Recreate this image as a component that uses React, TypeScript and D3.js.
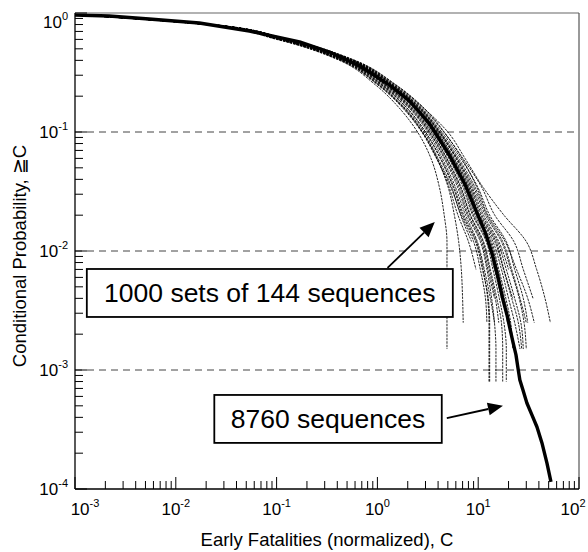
import * as d3 from "d3";

// axis decades (exponents of 10)
const xTickExps: number[] = [-3, -2, -1, 0, 1, 2];
const yTickExps: number[] = [0, -1, -2, -3, -4];
const gridValues: number[] = [1e-1, 1e-2, 1e-3];

// 8760 sequences (thick curve): C values and matching conditional probabilities
const mainC: number[] = [
  0.001, 0.00218, 0.00544, 0.0171, 0.0537, 0.169, 0.335, 0.665, 1.32, 2.09, 3.3,
  5.23, 7.36, 9.25, 11.6, 13.7, 15.7, 17.6, 19.3, 20.6, 22.1, 23.7, 24.8, 25.9,
  27.8, 30.4, 34.1, 38.3, 42.9, 48.1, 52.7,
];
const mainP: number[] = [
  0.962, 0.944, 0.89, 0.824, 0.706, 0.571, 0.47, 0.359, 0.248, 0.182, 0.117,
  0.0629, 0.0366, 0.023, 0.0147, 0.0096, 0.00605, 0.00388, 0.0029, 0.00225,
  0.00172, 0.00134, 0.00104, 0.000824, 0.000679, 0.000528, 0.000419, 0.000332,
  0.000244, 0.000165, 0.000115,
];

// 1000 sets of 144 sequences (thin curves): probability levels shared by all sets
const setP: number[] = [
  0.97, 0.8, 0.6, 0.4, 0.25, 0.15, 0.1, 0.06, 0.035, 0.02, 0.012, 0.007, 0.004,
  0.0025, 0.0015, 0.0008,
];
// C of each sampled set at those levels (a set stops where its list ends)
const setC: number[][] = [
  [0.001, 0.023, 0.13, 0.59, 1.5, 3.1, 5.0, 7.4, 11, 18, 30, 38, 46, 52],
  [0.001, 0.0225, 0.128, 0.58, 1.46, 3.0, 4.55, 7.05, 10.7, 14.6, 22.6, 28, 35],
  [0.001, 0.022, 0.125, 0.57, 1.42, 2.9, 4.35, 6.7, 9.8, 13, 19, 23, 28, 31],
  [0.001, 0.021, 0.119, 0.52, 1.28, 2.6, 3.8, 5.6, 7.9, 10.2, 14, 17, 20, 23, 26],
  [0.001, 0.0205, 0.113, 0.49, 1.18, 2.3, 3.3, 4.7, 6.4, 8.0, 10.8, 12.5, 14.5],
  [0.001, 0.02, 0.108, 0.46, 1.1, 2.1, 3.0, 4.2, 5.6, 7.0, 9.4, 11, 12.6, 13, 13, 13],
  [0.001, 0.0195, 0.1, 0.42, 0.95, 1.75, 2.5, 3.4, 4.1, 4.6, 4.9, 4.9, 4.9, 4.9, 4.9],
  [0.001, 0.0205, 0.11, 0.47, 1.12, 2.2, 3.15, 4.4, 5.9, 7.5, 9.8, 11.5, 13.2, 14.5],
  [0.001, 0.022, 0.124, 0.55, 1.36, 2.75, 4.05, 6.1, 8.6, 11.3, 16, 20],
  [0.001, 0.0215, 0.12, 0.535, 1.32, 2.62, 3.85, 5.5, 7.7, 9.8, 13.5, 16, 18.8, 21, 22],
  [0.001, 0.02, 0.105, 0.44, 1.02, 1.95, 2.8, 3.9, 5.1, 6.3, 8.0, 9.5],
  [0.001, 0.0222, 0.127, 0.57, 1.42, 2.85, 4.2, 6.4, 9.2, 12.2, 17.5, 21.5, 26, 30],
  [0.001, 0.021, 0.115, 0.5, 1.2, 2.4, 3.45, 4.9, 6.7, 8.4, 11.3, 13.2, 15.3, 17, 17.5, 17.5],
  [0.001, 0.0212, 0.118, 0.52, 1.26, 2.5, 3.6, 5.2, 7.2, 9.0, 12.3, 14.5, 17],
  [0.001, 0.0218, 0.122, 0.54, 1.34, 2.7, 3.95, 5.8, 8.2, 10.6, 15, 18, 22],
  [0.001, 0.0198, 0.103, 0.43, 1.0, 1.9, 2.75, 3.85, 5.3, 6.8, 9.0, 10.5, 11.8, 12.2],
  [0.001, 0.0216, 0.121, 0.54, 1.33, 2.65, 3.9, 5.7, 8.0, 10.3, 14.6, 17.8, 21.5, 25, 27],
  [0.001, 0.0202, 0.108, 0.45, 1.06, 2.0, 2.9, 4.0, 5.4, 6.7, 8.6],
  [0.001, 0.0214, 0.119, 0.525, 1.29, 2.55, 3.7, 5.35, 7.4, 9.3, 12.8, 15, 17.8, 19.5],
  [0.001, 0.0198, 0.104, 0.44, 1.03, 1.95, 2.8, 3.9, 5.0, 5.8, 6.4, 6.8, 7.0, 7.1],
  [0.001, 0.0225, 0.13, 0.6, 1.52, 3.1, 4.6, 6.9, 9.6, 12.5, 18.5, 24, 31, 36],
  [0.001, 0.0208, 0.112, 0.48, 1.15, 2.25, 3.25, 4.6, 6.2, 7.8, 10.5, 12.2, 13.6, 14.5, 15, 15],
  [0.001, 0.0212, 0.121, 0.53, 1.31, 2.58, 3.75, 5.45, 7.6, 9.6, 13.2, 15.6, 18.2, 20.5],
  [0.001, 0.0218, 0.124, 0.55, 1.38, 2.78, 4.1, 6.0, 8.4, 10.9, 15.5, 19, 23, 26.5, 28],
  [0.001, 0.0207, 0.114, 0.49, 1.19, 2.35, 3.4, 4.85, 6.6, 8.3, 11.1, 12.9, 14.8, 16],
  [0.001, 0.0203, 0.109, 0.46, 1.09, 2.08, 3.0, 4.25, 5.7, 7.2, 9.6, 11.2, 12.4, 12.8, 12.8, 12.8],
  [0.001, 0.022, 0.126, 0.565, 1.4, 2.82, 4.15, 6.2, 8.9, 11.8, 17, 21, 25.5, 28.5, 30],
  [0.001, 0.0213, 0.117, 0.51, 1.24, 2.47, 3.55, 5.1, 7.0, 8.8, 12, 14, 16.2, 18, 19, 19],
];

// annotations, in data coordinates
const setsLabel = "1000 sets of 144 sequences";
const setsBoxC: [number, number] = [0.00131, 5.6];
const setsBoxP: [number, number] = [0.00706, 0.00279];
const setsArrow: [number, number][] = [[1.26, 0.0072], [3.71, 0.0175]];
const mainLabel = "8760 sequences";
const mainBoxC: [number, number] = [0.0241, 4.35];
const mainBoxP: [number, number] = [0.000617, 0.000244];
const mainArrow: [number, number][] = [[4.88, 0.000395], [17.6, 0.0005]];

const xTitle = "Early Fatalities (normalized), C";
const yTitle = "Conditional Probability, \u2267C";

const width = 588;
const height = 552;
const marginLeft = 75;
const marginRight = 9;
const marginTop = 13;
const marginBottom = 63;
const font = "'Liberation Sans', Arial, Helvetica, sans-serif";

export default function App() {
  const x = d3.scaleLog().domain([1e-3, 1e2]).range([marginLeft, width - marginRight]);
  const y = d3.scaleLog().domain([1e-4, 1]).range([height - marginBottom, marginTop]);
  const line = d3
    .line<[number, number]>()
    .x((d) => x(d[0]))
    .y((d) => y(d[1]));
  const thinLine = d3
    .line<[number, number]>()
    .x((d) => x(d[0]))
    .y((d) => y(d[1]))
    .curve(d3.curveMonotoneY);

  const mainPts = mainC.map((c, i) => [c, mainP[i]] as [number, number]);
  const isMajor = (v: number) => Math.abs(Math.log10(v) - Math.round(Math.log10(v))) < 1e-9;

  const arrow = (pts: [number, number][], key: string) => {
    const [x0, y0] = [x(pts[0][0]), y(pts[0][1])];
    const [x1, y1] = [x(pts[1][0]), y(pts[1][1])];
    const a = Math.atan2(y1 - y0, x1 - x0);
    const hl = 15;
    const hw = 6.5;
    const bx = x1 - hl * Math.cos(a);
    const by = y1 - hl * Math.sin(a);
    const px = -Math.sin(a) * hw;
    const py = Math.cos(a) * hw;
    return (
      <g key={key}>
        <line x1={x0} y1={y0} x2={bx} y2={by} stroke="#000" strokeWidth={1.8} />
        <polygon points={`${x1},${y1} ${bx + px},${by + py} ${bx - px},${by - py}`} fill="#000" />
      </g>
    );
  };

  const bottom = height - marginBottom;
  const right = width - marginRight;

  return (
    <svg
      width={width}
      height={height}
      style={{ position: "absolute", left: 0, top: 0, background: "#fff" }}
      fontFamily={font}
    >
      <rect x={0} y={0} width={width} height={height} fill="#fff" />

      {/* dashed grid lines */}
      {gridValues.map((v) => (
        <line
          key={v}
          x1={marginLeft}
          x2={right}
          y1={y(v)}
          y2={y(v)}
          stroke="#444"
          strokeWidth={1}
          strokeDasharray="7 5"
        />
      ))}

      {/* 1000 sets of 144 sequences */}
      <g fill="none" stroke="#000" strokeWidth={0.85} strokeDasharray="2.5 1">
        {setC.map((cs, i) => (
          <path key={i} d={thinLine(cs.map((c, j) => [c, setP[j]] as [number, number])) || ""} />
        ))}
      </g>

      {/* 8760 sequences */}
      <path d={line(mainPts) || ""} fill="none" stroke="#000" strokeWidth={3.4} strokeLinejoin="round" />

      {/* frame */}
      <line x1={marginLeft} x2={right} y1={marginTop} y2={marginTop} stroke="#666" strokeWidth={1.2} />
      <line x1={right} x2={right} y1={marginTop} y2={bottom} stroke="#555" strokeWidth={1.2} />
      <line x1={marginLeft} x2={marginLeft} y1={marginTop} y2={bottom} stroke="#000" strokeWidth={1.3} />
      <line x1={marginLeft} x2={right} y1={bottom} y2={bottom} stroke="#000" strokeWidth={1.3} />

      {/* x ticks (inside) */}
      {x.ticks().map((v, i) => (
        <line
          key={"xt" + i}
          x1={x(v)}
          x2={x(v)}
          y1={bottom}
          y2={bottom - (isMajor(v) ? 12 : 8)}
          stroke="#000"
          strokeWidth={1}
        />
      ))}
      {/* y ticks (inside) */}
      {y.ticks().map((v, i) => (
        <line
          key={"yt" + i}
          x1={marginLeft}
          x2={marginLeft + (isMajor(v) ? 12 : 8)}
          y1={y(v)}
          y2={y(v)}
          stroke="#000"
          strokeWidth={1}
        />
      ))}

      {/* x tick labels */}
      {xTickExps.map((e) => (
        <text
          key={"xl" + e}
          x={x(Math.pow(10, e)) + (e === -3 ? 10 : e === 2 ? -6 : 0)}
          y={515}
          fontSize={17}
          textAnchor="middle"
          fill="#000"
        >
          10
          <tspan fontSize={11} dy={-8}>
            {e}
          </tspan>
        </text>
      ))}
      {/* y tick labels */}
      {yTickExps.map((e) => (
        <text
          key={"yl" + e}
          x={68}
          y={y(Math.pow(10, e)) + (e === 0 ? 15 : 6)}
          fontSize={17}
          textAnchor="end"
          fill="#000"
        >
          10
          <tspan fontSize={11} dy={-8}>
            {e}
          </tspan>
        </text>
      ))}

      {/* axis titles */}
      <text x={327} y={546} fontSize={18.5} textAnchor="middle" fill="#000">
        {xTitle}
      </text>
      <text transform="translate(26,256) rotate(-90)" fontSize={18.5} textAnchor="middle" fill="#000">
        {yTitle}
      </text>

      {/* annotations */}
      <rect
        x={x(setsBoxC[0])}
        y={y(setsBoxP[0])}
        width={x(setsBoxC[1]) - x(setsBoxC[0])}
        height={y(setsBoxP[1]) - y(setsBoxP[0])}
        fill="#fff"
        stroke="#000"
        strokeWidth={1.8}
      />
      <text
        x={(x(setsBoxC[0]) + x(setsBoxC[1])) / 2}
        y={(y(setsBoxP[0]) + y(setsBoxP[1])) / 2 + 9.5}
        fontSize={26.5}
        textAnchor="middle"
        fill="#000"
      >
        {setsLabel}
      </text>
      {arrow(setsArrow, "a1")}

      <rect
        x={x(mainBoxC[0])}
        y={y(mainBoxP[0])}
        width={x(mainBoxC[1]) - x(mainBoxC[0])}
        height={y(mainBoxP[1]) - y(mainBoxP[0])}
        fill="#fff"
        stroke="#000"
        strokeWidth={1.8}
      />
      <text
        x={(x(mainBoxC[0]) + x(mainBoxC[1])) / 2}
        y={(y(mainBoxP[0]) + y(mainBoxP[1])) / 2 + 9.5}
        fontSize={26.5}
        textAnchor="middle"
        fill="#000"
      >
        {mainLabel}
      </text>
      {arrow(mainArrow, "a2")}
    </svg>
  );
}
